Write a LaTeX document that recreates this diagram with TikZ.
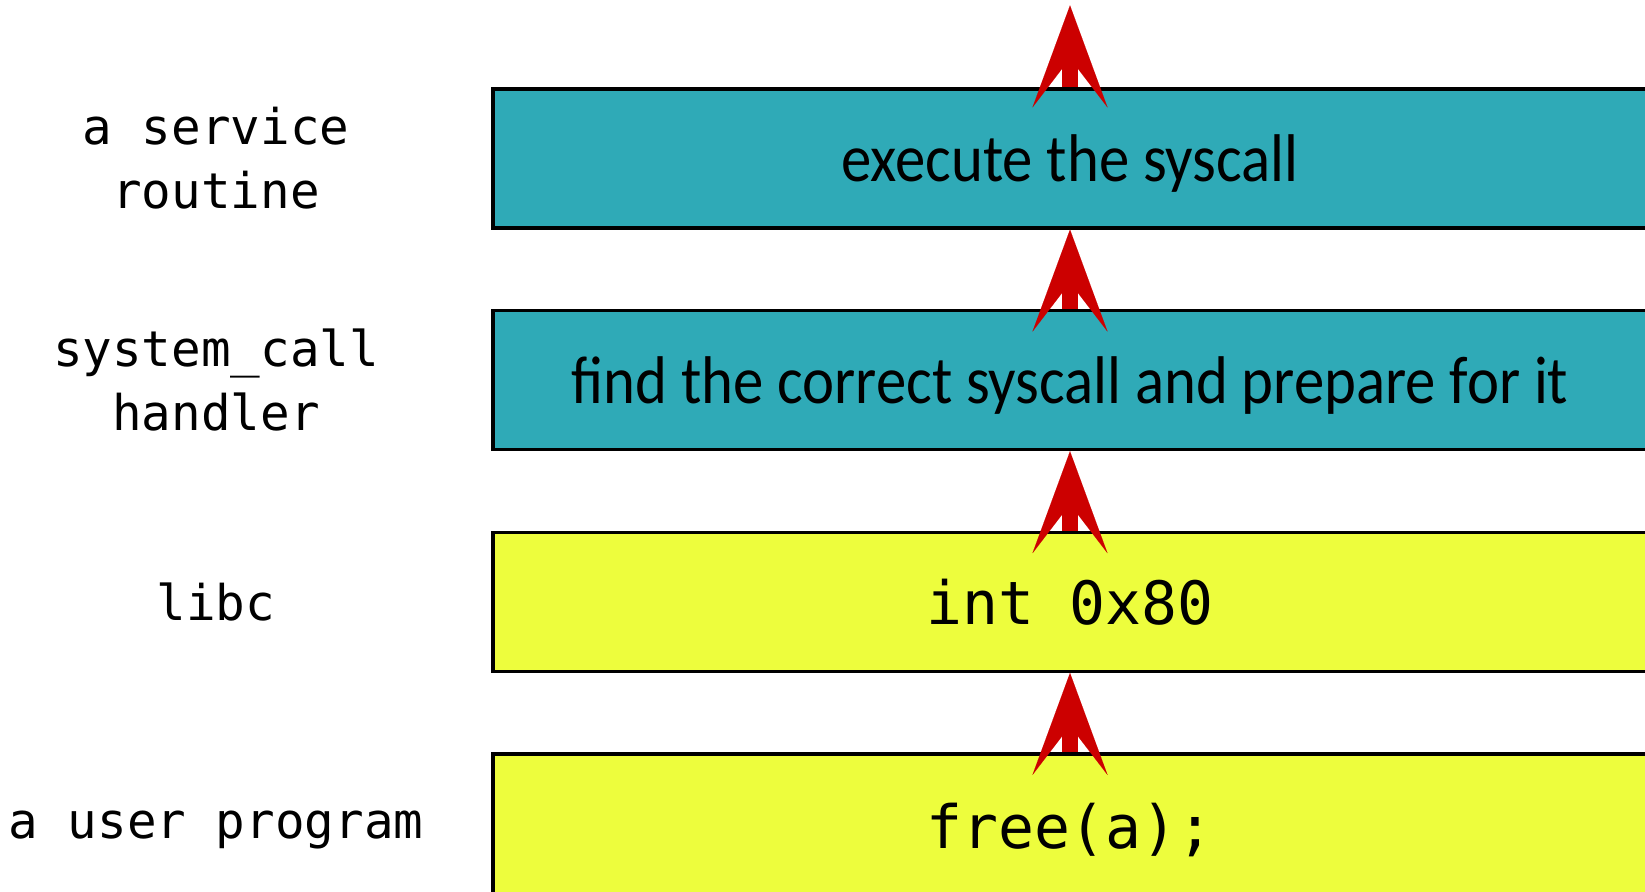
\documentclass[tikz,border=0pt]{standalone}
\usepackage{fontspec}
\setmonofont{DejaVu Sans Mono}
\newfontfamily\layerfont[FakeStretch=0.9]{Carlito}
\usepackage{tikz}
\usetikzlibrary{arrows.meta,positioning}
\definecolor{KernelTeal}{HTML}{2FAAB7}
\definecolor{UserYellow}{HTML}{EDFD3D}
\definecolor{CallRed}{HTML}{CC0000}
\tikzset{
  layer/.style={draw=black,line width=0.9pt,minimum width=11.54cm,minimum height=1.39cm,
              inner sep=0pt,align=center},
  kernelbox/.style={layer,fill=KernelTeal,text depth=0pt,
              font=\layerfont\fontsize{19.2}{23}\selectfont},
  userbox/.style={layer,fill=UserYellow,font=\ttfamily\fontsize{17}{20}\selectfont},
  side/.style={font=\ttfamily\fontsize{14}{18.2}\selectfont,align=center},
  upcall/.style={-{Stealth[length=1.02cm,width=0.75cm,inset=0.49cm,line width=0.01pt]},
              line width=0.16cm,draw=CallRed,fill=CallRed}
}
\begin{document}
\begin{tikzpicture}
  \useasboundingbox (0,0) rectangle (16.45,8.92);
  \clip (0,0) rectangle (16.45,8.92);

  \node[kernelbox] (exec) at (10.70,7.335) {execute the syscall};
  \node[kernelbox,below=0.795cm of exec] (handler) {find the correct syscall and prepare for it};
  \node[userbox,below=0.795cm of handler] (trap) {int 0x80};
  \node[userbox,minimum height=1.52cm,below=0.795cm of trap] (prog) {free(a);};
  \coordinate[above=0.82cm of exec] (done);

  \coordinate (lcol) at (2.16,0);
  \node[side] (lexec) at (lcol |- exec) {a service\\routine};
  \node[side] (lhandler) at (lcol |- handler) {system\_call\\handler};
  \node[side] (ltrap) at (lcol |- trap) {libc};
  \node[side] (lprog) at (lcol |- prog) {a user program};

  \draw[upcall] (prog.north) -- (trap.south);
  \draw[upcall] (trap.north) -- (handler.south);
  \draw[upcall] (handler.north) -- (exec.south);
  \draw[upcall] (exec.north) -- (done);
\end{tikzpicture}
\end{document}
